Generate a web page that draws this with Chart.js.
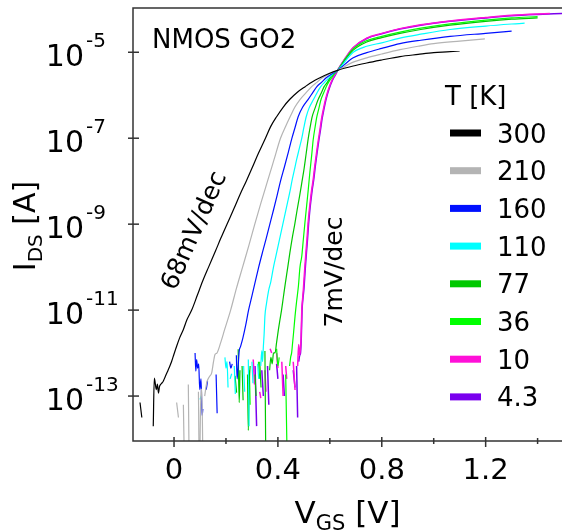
<!DOCTYPE html>
<html><head><meta charset="utf-8">
<script src="https://cdn.jsdelivr.net/npm/chart.js@4.4.0/dist/chart.umd.min.js"></script>
<style>html,body{margin:0;padding:0;background:#fff;}canvas{display:block;}</style>
</head><body>
<canvas id="c" width="562" height="531" style="width:562px;height:531px"></canvas>
<script>
// ---- data (V_GS in volts, log10 of I_DS in amperes; null = gap) ----
const temperatures = ['300', '210', '160', '110', '77', '36', '10', '4.3'];

const vgs300 = [-0.131,-0.124,null,-0.080,-0.076,-0.068,-0.064,-0.060,-0.056,-0.050,-0.042,-0.034,-0.026,-0.018,-0.009,0.000,0.010,0.022,0.036,0.050,0.068,0.090,0.110,0.133,0.160,0.180,0.204,0.230,0.255,0.278,0.300,0.325,0.352,0.372,0.395,0.420,0.445,0.475,0.505,0.535,0.560,0.595,0.630,0.690,0.742,0.800,0.870,0.940,1.000,1.050,1.100];
const logIds300 = [-13.15,-13.50,null,-13.70,-12.58,-12.85,-12.72,-12.93,-12.78,-12.72,-12.66,-12.55,-12.44,-12.33,-12.19,-12.02,-11.84,-11.64,-11.45,-11.22,-11.00,-10.65,-10.33,-10.00,-9.62,-9.33,-9.00,-8.65,-8.30,-8.00,-7.70,-7.35,-7.00,-6.73,-6.50,-6.28,-6.10,-5.93,-5.80,-5.68,-5.60,-5.50,-5.42,-5.32,-5.25,-5.18,-5.10,-5.05,-5.01,-4.99,-4.97];

const vgs210 = [0.010,0.017,null,0.036,0.041,null,0.055,0.059,null,0.094,0.098,0.102,0.107,0.112,null,0.118,0.126,0.136,0.145,0.152,0.158,0.165,0.180,0.195,0.218,0.240,0.264,0.288,0.311,0.335,0.360,0.385,0.410,0.430,0.447,0.465,0.485,0.507,0.530,0.550,0.570,0.600,0.630,0.690,0.742,0.800,0.870,0.940,1.000,1.100,1.197];
const logIds210 = [-13.15,-13.50,null,-13.20,-15,null,-12.73,-15,null,-12.90,-15,-13.30,-12.84,-15,null,-13.00,-12.69,-12.55,-12.46,-12.20,-12.03,-12.00,-11.75,-11.45,-11.00,-10.50,-10.00,-9.50,-9.00,-8.50,-8.00,-7.50,-7.00,-6.72,-6.50,-6.28,-6.10,-5.95,-5.80,-5.70,-5.60,-5.50,-5.42,-5.23,-5.13,-5.04,-4.94,-4.86,-4.80,-4.74,-4.69];

const vgs160 = [0.081,0.084,0.087,0.091,0.095,0.099,0.104,0.108,0.111,null,0.124,0.129,null,0.162,0.166,null,0.214,0.219,0.224,null,0.240,0.243,0.247,0.251,0.256,0.265,0.276,0.287,0.300,0.313,0.326,0.340,0.355,0.369,0.383,0.397,0.410,0.425,0.440,0.454,0.466,0.478,0.495,0.516,0.533,0.550,0.568,0.585,0.605,0.630,0.690,0.742,0.800,0.870,0.950,1.063,1.200,1.300];
const logIds160 = [-12.00,-12.42,-12.15,-12.35,-12.25,-12.85,-12.60,-13.45,-13.30,null,-12.85,-12.65,null,-12.50,-13.40,null,-12.20,-12.35,-12.25,null,-12.05,-12.60,-12.30,-11.95,-11.85,-11.65,-11.35,-11.00,-10.67,-10.33,-10.00,-9.67,-9.33,-9.00,-8.67,-8.33,-8.00,-7.67,-7.33,-7.00,-6.75,-6.50,-6.28,-6.10,-5.95,-5.80,-5.70,-5.60,-5.51,-5.42,-5.13,-5.01,-4.91,-4.80,-4.72,-4.63,-4.56,-4.51];

const vgs110 = [0.100,0.106,null,0.196,0.200,0.204,0.208,null,0.216,0.222,null,0.232,0.236,null,0.268,0.272,null,0.286,0.289,null,0.300,0.304,null,0.322,0.326,null,0.334,0.338,0.341,0.344,0.347,0.350,0.356,0.364,0.373,0.383,0.392,0.401,0.410,0.419,0.428,0.437,0.446,0.454,0.463,0.472,0.482,0.492,0.500,0.509,0.520,0.537,0.550,0.565,0.580,0.595,0.612,0.630,0.690,0.742,0.800,0.870,0.950,1.063,1.200,1.350];
const logIds110 = [-13.08,-12.98,null,-12.10,-12.35,-12.20,-12.80,null,-12.60,-12.48,null,-12.30,-12.95,null,-12.30,-12.90,null,-12.15,-13.70,null,-12.20,-12.70,null,-12.25,-12.60,null,-12.30,-11.95,-12.20,-11.85,-11.55,-11.14,-10.85,-10.55,-10.33,-10.00,-9.75,-9.50,-9.25,-9.00,-8.75,-8.50,-8.25,-8.00,-7.75,-7.50,-7.25,-7.00,-6.75,-6.50,-6.30,-6.10,-5.95,-5.80,-5.70,-5.60,-5.50,-5.42,-5.00,-4.86,-4.78,-4.67,-4.58,-4.47,-4.39,-4.32];

const vgs77 = [0.235,0.241,null,0.247,0.251,0.254,null,0.262,0.266,null,0.283,0.286,0.290,0.293,null,0.312,0.316,null,0.330,0.335,null,0.350,0.354,null,0.368,0.373,0.378,0.383,0.389,0.395,0.402,0.408,0.414,0.421,0.428,0.438,0.446,0.455,0.465,0.474,0.484,0.493,0.501,0.509,0.517,0.524,0.532,0.543,0.555,0.567,0.578,0.590,0.600,0.615,0.630,0.660,0.690,0.742,0.800,0.870,0.950,1.063,1.200,1.300,1.400];
const logIds77 = [-12.53,-12.92,null,-11.91,-13.15,-12.40,null,-12.30,-13.10,null,-12.50,-13.80,-12.66,-12.30,null,-12.50,-13.00,null,-12.20,-12.80,null,-11.95,-15,null,-12.40,-12.10,-12.25,-12.00,-11.99,-11.75,-11.45,-11.22,-11.00,-10.70,-10.40,-10.00,-9.67,-9.33,-9.00,-8.67,-8.33,-8.00,-7.70,-7.35,-7.00,-6.75,-6.50,-6.30,-6.10,-5.95,-5.80,-5.70,-5.60,-5.50,-5.42,-5.17,-4.95,-4.76,-4.66,-4.56,-4.47,-4.37,-4.28,-4.23,-4.20];

const vgs36 = [0.290,0.293,null,0.325,0.330,null,0.395,0.400,0.405,null,0.430,0.437,null,0.445,0.449,0.453,0.456,0.460,0.466,0.472,0.479,0.485,0.492,0.498,0.504,0.511,0.517,0.523,0.530,0.536,0.543,0.550,0.558,0.566,0.576,0.586,0.596,0.606,0.618,0.630,0.660,0.690,0.742,0.800,0.870,0.950,1.063,1.200,1.300,1.400];
const logIds36 = [-12.40,-13.20,null,-12.20,-12.60,null,-11.90,-12.30,-12.10,null,-12.50,-15,null,-12.30,-12.10,-11.99,-11.80,-11.55,-11.14,-10.80,-10.44,-10.00,-9.74,-9.35,-8.97,-8.55,-8.19,-7.80,-7.40,-7.03,-6.75,-6.50,-6.30,-6.10,-5.95,-5.80,-5.69,-5.60,-5.50,-5.42,-5.15,-4.92,-4.73,-4.63,-4.53,-4.44,-4.34,-4.25,-4.20,-4.17];

const vgs10 = [0.305,0.310,null,0.330,0.334,null,0.350,0.354,null,0.370,0.376,null,0.395,0.400,null,0.415,0.420,null,0.430,0.434,null,0.459,0.466,null,0.476,0.480,0.483,0.486,0.489,0.492,0.495,0.498,0.501,0.504,0.508,0.512,0.516,0.520,0.525,0.530,0.536,0.542,0.549,0.556,0.562,0.568,0.575,0.582,0.590,0.598,0.606,0.614,0.622,0.630,0.660,0.690,0.742,0.800,0.870,0.950,1.063,1.200,1.300,1.447];
const logIds10 = [-12.15,-12.73,null,-12.90,-13.05,null,-12.40,-12.90,null,-11.90,-12.00,null,-12.00,-12.35,null,-12.20,-13.00,null,-12.30,-12.60,null,-12.20,-12.86,null,-12.30,-11.80,-12.05,-11.95,-11.68,-11.00,-10.75,-10.52,-10.25,-9.98,-9.65,-9.35,-9.00,-8.73,-8.45,-8.20,-7.96,-7.65,-7.33,-7.03,-6.80,-6.55,-6.33,-6.13,-5.95,-5.80,-5.68,-5.58,-5.50,-5.42,-5.13,-4.89,-4.67,-4.56,-4.45,-4.36,-4.27,-4.19,-4.14,-4.10];

const vgs4p3 = [0.312,0.318,null,0.338,0.344,null,0.360,0.365,null,0.395,0.400,null,0.420,0.425,null,0.459,0.466,null,0.472,0.476,null,0.480,0.484,0.487,0.490,0.493,0.496,0.500,0.503,0.506,0.510,0.514,0.518,0.522,0.527,0.532,0.538,0.544,0.551,0.558,0.564,0.570,0.577,0.584,0.592,0.600,0.608,0.616,0.624,0.630,0.660,0.690,0.742,0.800,0.870,0.950,1.063,1.200,1.300,1.400,1.494];
const logIds4p3 = [-12.30,-13.70,null,-12.40,-13.00,null,-12.30,-13.20,null,-12.25,-12.60,null,-12.50,-13.00,null,-12.40,-12.80,null,-12.30,-13.50,null,-12.20,-12.05,-12.00,-11.65,-11.00,-10.75,-10.52,-10.25,-9.98,-9.65,-9.35,-9.00,-8.73,-8.45,-8.20,-7.96,-7.65,-7.33,-7.03,-6.80,-6.55,-6.33,-6.13,-5.95,-5.80,-5.68,-5.58,-5.50,-5.42,-5.14,-4.90,-4.68,-4.57,-4.46,-4.37,-4.28,-4.20,-4.15,-4.12,-4.10];

const xTickValues = [0, 0.4, 0.8, 1.2];
const xTickLabels = ['0', '0.4', '0.8', '1.2'];
const xMinorTickValues = [0.2, 0.6, 1.0, 1.4];
const yTickValues = [1e-13, 1e-11, 1e-9, 1e-7, 1e-5];
const yTickBase = '10';
const yTickExponents = ['-13', '-11', '-9', '-7', '-5'];

// ---- styles ----
const seriesColors = ['#000000', '#b4b4b4', '#0010ff', '#00ffff', '#00c800', '#00ff00', '#ff10d8', '#7a00ee'];
const FONT = "'DejaVu Sans', sans-serif";

const vgsList = [vgs300, vgs210, vgs160, vgs110, vgs77, vgs36, vgs10, vgs4p3];
const logList = [logIds300, logIds210, logIds160, logIds110, logIds77, logIds36, logIds10, logIds4p3];

function buildPoints(vs, ls) {
  return vs.map((v, i) => ({ x: v, y: (ls[i] === null || v === null) ? null : Math.pow(10, ls[i]) }));
}

const datasets = temperatures.map((t, k) => ({
  label: t,
  data: buildPoints(vgsList[k], logList[k]),
  borderColor: seriesColors[k],
  backgroundColor: seriesColors[k],
  borderWidth: k >= 6 ? 1.5 : 1.2,
  pointRadius: 0,
  showLine: true,
  spanGaps: false,
  cubicInterpolationMode: 'monotone',
  fill: false
}));

function seg(ctx, x1, y1, x2, y2) { ctx.beginPath(); ctx.moveTo(x1, y1); ctx.lineTo(x2, y2); ctx.stroke(); }

const decor = {
  id: 'decor',
  afterDraw(chart) {
    const { ctx, chartArea: a, scales: { x, y } } = chart;
    ctx.save();
    // frame
    ctx.strokeStyle = '#333'; ctx.lineWidth = 1.5;
    ctx.beginPath();
    ctx.moveTo(chart.width + 2, a.top); ctx.lineTo(a.left, a.top);
    ctx.lineTo(a.left, a.bottom); ctx.lineTo(chart.width + 2, a.bottom);
    ctx.stroke();
    // ticks
    y.ticks.forEach(t => { const p = y.getPixelForValue(t.value); seg(ctx, a.left - 5, p, a.left + 6, p); });
    x.ticks.forEach(t => { const p = x.getPixelForValue(t.value); seg(ctx, p, a.bottom - 4, p, a.bottom + 6); });
    xMinorTickValues.forEach(v => { const p = x.getPixelForValue(v); seg(ctx, p, a.bottom - 3, p, a.bottom + 3); });
    ctx.fillStyle = '#000';
    // exponents of y tick labels
    ctx.font = '20px ' + FONT; ctx.textAlign = 'left'; ctx.textBaseline = 'alphabetic';
    y.ticks.forEach((t, i) => { const p = y.getPixelForValue(t.value); ctx.fillText(yTickExponents[i], a.left - 47, p - 5); });
    // x axis title V_GS [V]
    const big = '31px ' + FONT, small = '21px ' + FONT;
    ctx.font = big; const wV = ctx.measureText('V').width; const wB = ctx.measureText(' [V]').width;
    ctx.font = small; const wGS = ctx.measureText('GS').width;
    let x0 = (a.left + a.right) / 2 - (wV + wGS + wB) / 2; const by = 523;
    ctx.font = big; ctx.fillText('V', x0, by);
    ctx.font = small; ctx.fillText('GS', x0 + wV, by + 7);
    ctx.font = big; ctx.fillText(' [V]', x0 + wV + wGS, by);
    // y axis title I_DS [A]
    ctx.save();
    ctx.translate(35, 226); ctx.rotate(-Math.PI / 2);
    ctx.font = '30px ' + FONT; const wI = ctx.measureText('I').width; const wA = ctx.measureText(' [A]').width;
    ctx.font = '20px ' + FONT; const wDS = ctx.measureText('DS').width;
    let s0 = -(wI + wDS + wA) / 2;
    ctx.font = '30px ' + FONT; ctx.fillText('I', s0, 0);
    ctx.font = '20px ' + FONT; ctx.fillText('DS', s0 + wI, 7);
    ctx.font = '30px ' + FONT; ctx.fillText(' [A]', s0 + wI + wDS, 0);
    ctx.restore();
    // annotations
    ctx.font = '26px ' + FONT; ctx.textAlign = 'left';
    ctx.fillText('NMOS GO2', 152, 48);
    ctx.save(); ctx.font = '25px ' + FONT; ctx.textAlign = 'center'; ctx.textBaseline = 'middle';
    ctx.translate(195, 231); ctx.rotate(-66 * Math.PI / 180); ctx.fillText('68mV/dec', 0, 0); ctx.restore();
    ctx.save(); ctx.font = '25px ' + FONT; ctx.textAlign = 'center'; ctx.textBaseline = 'middle';
    ctx.translate(335, 272); ctx.rotate(-Math.PI / 2); ctx.fillText('7mV/dec', 0, 0); ctx.restore();
    // legend
    ctx.font = '26px ' + FONT; ctx.textAlign = 'left'; ctx.textBaseline = 'alphabetic';
    ctx.fillText('T [K]', 445, 105);
    temperatures.forEach((t, i) => {
      const cy = 133 + 37.7 * i;
      ctx.fillStyle = seriesColors[i];
      ctx.fillRect(450, cy - 3.5, 31, 7);
      ctx.fillStyle = '#000';
      ctx.fillText(t, 497, cy + 9.5);
    });
    ctx.restore();
  }
};

new Chart(document.getElementById('c'), {
  type: 'scatter',
  data: { datasets },
  options: {
    responsive: false,
    animation: false,
    devicePixelRatio: 1,
    events: [],
    layout: { padding: { top: 8, right: 0, left: 0, bottom: 0 } },
    plugins: { legend: { display: false }, tooltip: { enabled: false } },
    scales: {
      x: {
        type: 'linear', min: -0.158, max: 1.494,
        afterFit: s => { s.height = 90; s.paddingLeft = 0; s.paddingRight = 0; },
        afterBuildTicks: s => { s.ticks = xTickValues.map(v => ({ value: v })); },
        grid: { display: false, drawTicks: false },
        border: { display: false },
        ticks: { color: '#000', font: { family: FONT, size: 29 }, padding: 13, maxRotation: 0, autoSkip: false,
                 callback: (v, i) => xTickLabels[i] }
      },
      y: {
        type: 'logarithmic', min: Math.pow(10, -14.04), max: Math.pow(10, -3.97),
        afterFit: s => { s.width = 133; s.paddingTop = 0; s.paddingBottom = 0; },
        afterBuildTicks: s => { s.ticks = yTickValues.map(v => ({ value: v })); },
        grid: { display: false, drawTicks: false },
        border: { display: false },
        ticks: { color: '#000', font: { family: FONT, size: 30 }, padding: 49, labelOffset: 6, autoSkip: false,
                 callback: () => yTickBase }
      }
    }
  },
  plugins: [decor]
});
</script></body></html>
